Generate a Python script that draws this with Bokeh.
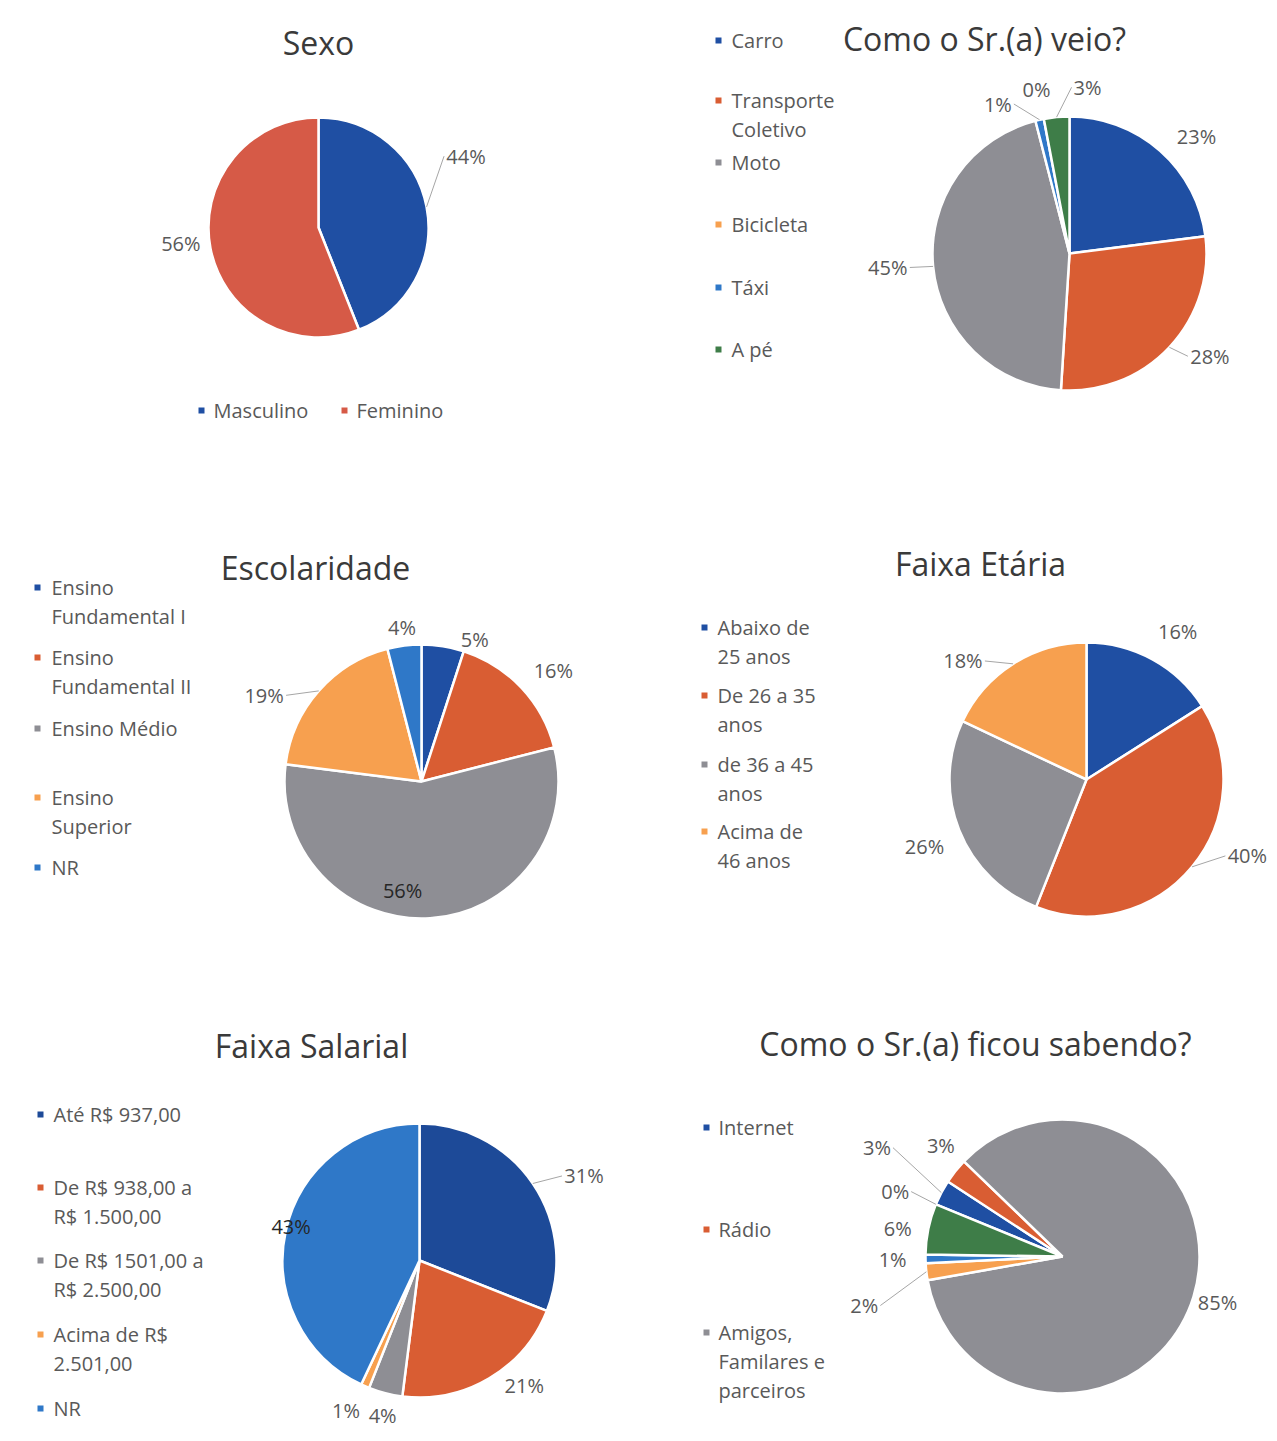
import math
from bokeh.plotting import figure
from bokeh.models import Range1d, ColumnDataSource
from bokeh.core.properties import value
from bokeh.embed import file_html
from bokeh.resources import INLINE

# ---------------- data ----------------
sexo_title = "Sexo"
sexo_cats = ["Masculino", "Feminino"]
sexo_vals = [44, 56]

veio_title = "Como o Sr.(a) veio?"
veio_cats = ["Carro", "Transporte\nColetivo", "Moto", "Bicicleta", "Táxi", "A pé"]
veio_vals = [23, 28, 45, 0, 1, 3]

esc_title = "Escolaridade"
esc_cats = ["Ensino\nFundamental I", "Ensino\nFundamental II", "Ensino Médio", "Ensino\nSuperior", "NR"]
esc_vals = [5, 16, 56, 19, 4]

idade_title = "Faixa Etária"
idade_cats = ["Abaixo de\n25 anos", "De 26 a 35\nanos", "de 36 a 45\nanos", "Acima de\n46 anos"]
idade_vals = [16, 40, 26, 18]

sal_title = "Faixa Salarial"
sal_cats = ["Até R$ 937,00", "De R$ 938,00 a\nR$ 1.500,00", "De R$ 1501,00 a\nR$ 2.500,00",
            "Acima de R$\n2.501,00", "NR"]
sal_vals = [31, 21, 4, 1, 43]

saber_title = "Como o Sr.(a) ficou sabendo?"
saber_cats = ["Internet", "Rádio", "Amigos,\nFamilares e\nparceiros", "Série 4", "Série 5", "Série 6", "Série 7"]
saber_vals = [3, 3, 85, 2, 1, 6, 0]

# ---------------- style ----------------
BLUE = "#1f4fa3"
RED = "#d65a47"
ORANGE_RED = "#d95d33"
GRAY = "#8e8e94"
ORANGE = "#f7a04f"
LBLUE = "#2f78c8"
GREEN = "#3e7d48"
DARKBLUE = "#1d3f7a"

FONT = value("Open Sans")
LABEL_COLOR = "#595959"
TITLE_COLOR = "#3a3a3a"
LEGEND_COLOR = "#595959"
LABEL_SIZE = "20px"
LEGEND_SIZE = "20px"
TITLE_SIZE = "32px"

W, H = 1269, 1433
OFFSET = 0


def X(xi):
    return xi - OFFSET


def Y(yi):
    return H - (yi - OFFSET)


charts = [
    dict(title=sexo_title, cats=sexo_cats, vals=sexo_vals, colors=[BLUE, RED],
         title_pos=(318, 42), center=(318, 227), r=110, start=0,
         nudge=[-15, 4], rf=[1.49, 1.26], leader=[True, False], dark=[False, False],
         legend_sq=[(201, 410), (344, 410)], legend_dx=12),
    dict(title=veio_title, cats=veio_cats, vals=veio_vals,
         colors=[BLUE, ORANGE_RED, GRAY, ORANGE, LBLUE, GREEN],
         title_pos=(984, 38), center=(1069, 253), r=137, start=0,
         nudge=[6, -7, 1, 3, -13, 11.6], rf=[1.26, 1.27, 1.33, 1.22, 1.21, 1.22],
         leader=[False, True, True, False, True, True], dark=[False] * 6,
         legend_sq=[(718, 40), (718, 100), (718, 162), (718, 224), (718, 287), (718, 349)], legend_dx=13),
    dict(title=esc_title, cats=esc_cats, vals=esc_vals,
         colors=[BLUE, ORANGE_RED, GRAY, ORANGE, LBLUE],
         title_pos=(315, 567), center=(421, 781), r=137, start=0,
         nudge=[11.5, 3, 13.4, -12.7, 0], rf=[1.11, 1.26, 0.81, 1.31, 1.13],
         leader=[False, False, False, True, False], dark=[False, False, True, False, False],
         legend_sq=[(37, 587), (37, 657), (37, 728), (37, 797), (37, 867)], legend_dx=14),
    dict(title=idade_title, cats=idade_cats, vals=idade_vals,
         colors=[BLUE, ORANGE_RED, GRAY, ORANGE],
         title_pos=(980, 563), center=(1086, 779), r=137, start=0,
         nudge=[2.8, -14.2, -0.9, -13.8], rf=[1.27, 1.30, 1.28, 1.25],
         leader=[False, True, False, True], dark=[False] * 4,
         legend_sq=[(704, 627), (704, 695), (704, 764), (704, 831)], legend_dx=13),
    dict(title=sal_title, cats=sal_cats, vals=sal_vals,
         colors=["#1d4a98", ORANGE_RED, GRAY, ORANGE, LBLUE],
         title_pos=(311, 1045), center=(419, 1260), r=137, start=0,
         nudge=[7, -9.4, -1, 2.7, 2.3], rf=[1.35, 1.19, 1.16, 1.22, 0.97],
         leader=[True, False, False, False, False], dark=[False, False, False, False, True],
         legend_sq=[(40, 1114), (40, 1187), (40, 1260), (40, 1334), (40, 1408)], legend_dx=13),
    dict(title=saber_title, cats=saber_cats, vals=saber_vals,
         colors=[BLUE, ORANGE_RED, GRAY, ORANGE, LBLUE, GREEN, DARKBLUE],
         title_pos=(975, 1043), center=(1062, 1256), r=137, start=292.4,
         nudge=[2.6, 3.7, -0.5, -7.5, 0, -2, -1.2], rf=[1.57, 1.2, 1.18, 1.49, 1.24, 1.22, 1.31],
         leader=[True, False, False, True, False, False, True], dark=[False] * 7,
         legend_sq=[(706, 1127), (706, 1229), (706, 1332)], legend_dx=12),
]

LINE_STEP = 29

p = figure(width=W, height=H, x_range=Range1d(0, W), y_range=Range1d(0, H),
           output_backend="svg", toolbar_location=None,
           x_axis_location=None, y_axis_location=None, min_border=0)
p.grid.visible = False
p.outline_line_color = None
p.background_fill_color = "white"
p.border_fill_color = "white"

for ch in charts:
    cx, cy = X(ch["center"][0]), Y(ch["center"][1])
    r = ch["r"]
    total = float(sum(ch["vals"]))
    start = ch["start"]

    ws = dict(x=[], y=[], r=[], sa=[], ea=[], c=[])
    lab = dict(x=[], y=[], t=[], c=[])
    lead = dict(xs=[], ys=[])
    cum = 0.0
    for i, v in enumerate(ch["vals"]):
        a0 = start + 360.0 * cum / total
        a1 = start + 360.0 * (cum + v) / total
        cum += v
        if v > 0:
            ws["x"].append(cx)
            ws["y"].append(cy)
            ws["r"].append(r)
            ws["sa"].append(math.pi / 2 - math.radians(a0))
            ws["ea"].append(math.pi / 2 - math.radians(a1))
            ws["c"].append(ch["colors"][i])
        mid = (a0 + a1) / 2.0
        la = math.radians(mid + ch["nudge"][i])
        lr = r * ch["rf"][i]
        lx = cx + lr * math.sin(la)
        ly = cy + lr * math.cos(la)
        txt = f"{v}%"
        lab["x"].append(lx)
        lab["y"].append(ly)
        lab["t"].append(txt)
        lab["c"].append("#262626" if ch["dark"][i] else LABEL_COLOR)
        if ch["leader"][i]:
            m = math.radians(mid)
            ex = cx + r * 1.0 * math.sin(m)
            ey = cy + r * 1.0 * math.cos(m)
            half = len(txt) * 6 + 4
            endx = lx - half if lx > cx else lx + half
            lead["xs"].append([ex, endx])
            lead["ys"].append([ey, ly])

    p.wedge(x="x", y="y", radius="r", start_angle="sa", end_angle="ea", direction="clock",
            fill_color="c", line_color="white", line_width=2.5, source=ColumnDataSource(ws))
    p.multi_line(xs="xs", ys="ys", line_color="#a6a6a6", line_width=1, source=ColumnDataSource(lead))
    p.text(x="x", y="y", text="t", text_color="c", text_font=FONT, text_font_size=LABEL_SIZE,
           text_align="center", text_baseline="middle", source=ColumnDataSource(lab))

    p.text(x=[X(ch["title_pos"][0])], y=[Y(ch["title_pos"][1])], text=[ch["title"]],
           text_font=FONT, text_font_size=TITLE_SIZE, text_color=TITLE_COLOR,
           text_align="center", text_baseline="middle")

    sq = dict(x=[], y=[], c=[])
    lt = dict(x=[], y=[], t=[])
    for i, (sx, sy) in enumerate(ch["legend_sq"]):
        sq["x"].append(X(sx))
        sq["y"].append(Y(sy))
        sq["c"].append(ch["colors"][i])
        for k, line in enumerate(ch["cats"][i].split("\n")):
            lt["x"].append(X(sx + ch["legend_dx"]))
            lt["y"].append(Y(sy + k * LINE_STEP))
            lt["t"].append(line)
    p.scatter(x="x", y="y", marker="square", size=6, fill_color="c", line_color=None,
              source=ColumnDataSource(sq))
    p.text(x="x", y="y", text="t", text_font=FONT, text_font_size=LEGEND_SIZE, text_color=LEGEND_COLOR,
           text_align="left", text_baseline="middle", source=ColumnDataSource(lt))

open("out.html", "w").write(file_html(p, INLINE))
